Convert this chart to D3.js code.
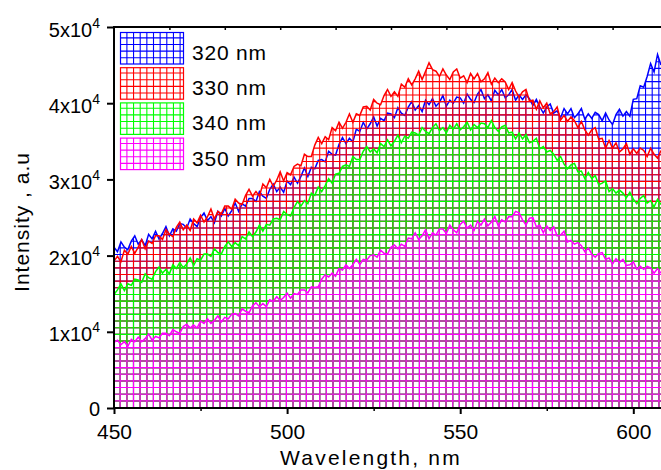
<!DOCTYPE html>
<html>
<head>
<meta charset="utf-8">
<script src="https://cdn.jsdelivr.net/npm/d3@7/dist/d3.min.js"></script>
<style>
  html, body { margin: 0; padding: 0; background: #fff; }
  svg { display: block; font-family: "Liberation Sans", Arial, sans-serif; }
</style>
</head>
<body>
<svg id="chart" width="661" height="470"></svg>
<script>
// Emission spectra, intensity in units of 10^3 counts, one value per nm from 450 to 608 nm
const wavelengthStart = 450;
const wavelengthEnd = 608;

const intensity320 = [
  21.1,20.5,21.8,21.1,20.8,21.9,22.6,21.5,22.1,21.3,   // 450-459
  22.8,22.2,23.2,22.2,22.9,23.8,22.6,23.5,23.2,24.2,   // 460-469
  24.1,23.6,24.8,24.2,23.8,25.0,25.6,24.6,25.1,24.3,   // 470-479
  25.8,25.2,26.2,25.2,25.9,26.9,25.8,26.8,26.5,27.5,   // 480-489
  27.5,27.1,28.4,27.8,27.5,28.7,29.4,28.4,29.0,28.3,   // 490-499
  29.8,29.3,30.3,29.5,30.4,31.5,30.4,31.6,31.4,32.5,   // 500-509
  32.6,32.3,33.7,33.3,33.2,34.6,35.5,34.7,35.4,34.9,   // 510-519
  36.6,36.3,37.5,36.6,37.3,38.2,37.0,38.0,37.7,38.7,   // 520-529
  38.6,38.1,39.4,38.7,38.4,39.5,40.2,39.1,39.7,38.9,   // 530-539
  40.4,39.8,40.6,39.6,40.1,41.0,39.6,40.4,40.0,40.8,   // 540-549
  40.7,40.0,41.2,40.5,40.1,41.2,41.8,40.6,41.1,40.3,   // 550-559
  41.7,41.1,41.8,40.7,41.1,41.8,40.4,41.1,40.5,41.1,   // 560-569
  40.6,39.7,40.5,39.5,38.7,39.5,39.9,38.7,39.0,38.1,   // 570-579
  39.3,38.6,39.3,38.1,38.6,39.3,37.9,38.6,38.0,38.8,   // 580-589
  38.5,37.7,38.7,37.8,37.2,38.5,39.2,38.3,38.9,38.3,   // 590-599
  40.5,40.6,42.3,42.1,43.5,45.2,44.1,46.4,45.0         // 600-608
];

const intensity330 = [
  19.3,19.9,19.2,20.7,20.2,21.2,20.3,21.1,22.1,20.9,   // 450-459
  21.9,21.6,22.6,22.6,22.1,23.4,22.8,22.5,23.7,24.4,   // 460-469
  23.4,24.0,23.3,24.8,24.3,25.3,24.4,25.1,26.1,24.8,   // 470-479
  25.8,25.5,26.5,26.5,26.1,27.4,26.9,26.7,27.9,28.7,   // 480-489
  27.8,28.4,27.8,29.4,28.9,30.0,29.1,29.9,31.0,29.8,   // 490-499
  30.9,30.6,31.7,32.0,31.8,33.3,33.0,33.0,34.5,35.5,   // 500-509
  34.7,35.6,35.2,36.8,36.4,37.5,36.7,37.5,38.6,37.5,   // 510-519
  38.6,38.4,39.5,39.6,39.1,40.5,40.0,39.8,41.0,41.8,   // 520-529
  40.9,41.5,40.9,42.5,42.1,43.2,42.4,43.2,44.2,43.1,   // 530-539
  44.2,45.3,44.4,44.2,43.5,44.5,43.7,43.1,44.1,44.5,   // 540-549
  43.3,43.6,42.7,43.9,43.2,43.9,42.8,43.2,44.0,42.5,   // 550-559
  43.3,42.7,43.2,42.8,41.8,42.7,41.6,40.8,41.5,41.8,   // 560-569
  40.3,40.4,39.2,40.3,39.4,40.0,38.6,38.9,39.5,37.8,   // 570-579
  38.4,37.6,38.2,37.7,36.8,37.6,36.5,35.8,36.5,36.8,   // 580-589
  35.3,35.4,34.1,35.1,34.1,34.8,33.6,34.0,34.7,33.3,   // 590-599
  34.0,33.4,34.1,33.8,33.0,34.1,33.3,32.8,33.8         // 600-608
];

const intensity340 = [
  14.9,15.5,16.3,15.4,16.3,16.1,16.9,16.8,16.5,17.6,   // 450-459
  17.1,16.9,17.9,18.5,17.7,18.2,17.6,18.8,18.3,19.1,   // 460-469
  18.4,18.9,19.7,18.7,19.6,19.4,20.2,20.2,19.9,20.9,   // 470-479
  20.4,20.2,21.2,21.8,21.2,21.7,21.3,22.5,22.2,23.1,   // 480-489
  22.5,23.1,24.0,23.2,24.1,24.0,24.8,24.9,24.7,25.8,   // 490-499
  25.4,25.2,26.3,27.1,26.5,27.2,26.8,28.2,27.9,29.0,   // 500-509
  28.4,29.2,30.1,29.5,30.7,30.8,31.7,31.9,31.7,33.0,   // 510-519
  32.6,32.6,33.7,34.3,33.6,34.0,33.5,34.7,34.3,35.2,   // 520-529
  34.4,35.0,35.8,34.8,35.7,35.4,36.2,36.1,35.8,36.8,   // 530-539
  36.3,36.0,36.8,37.3,36.4,36.8,36.1,37.1,36.6,37.3,   // 540-549
  36.5,36.9,37.5,36.5,37.2,36.8,37.4,37.3,36.8,37.7,   // 550-559
  36.8,36.3,36.9,37.1,36.1,36.2,35.3,36.1,35.3,35.9,   // 560-569
  34.8,35.0,35.4,34.0,34.3,33.6,33.8,33.3,32.5,33.0,   // 570-579
  32.0,31.4,31.9,32.1,31.0,31.1,30.1,30.9,30.1,30.5,   // 580-589
  29.3,29.5,29.8,28.4,28.8,28.2,28.6,28.2,27.6,28.3,   // 590-599
  27.4,26.8,27.5,27.9,26.9,27.2,26.4,27.4,26.7         // 600-608
];

const intensity350 = [
  8.6,8.9,8.3,8.7,8.1,9.0,8.7,9.3,8.7,9.1,             // 450-459
  9.7,8.9,9.4,9.2,9.8,9.8,9.5,10.3,10.0,9.8,           // 460-469
  10.7,11.0,10.5,10.9,10.5,11.4,11.1,11.7,11.1,11.5,   // 470-479
  12.1,11.3,11.9,11.7,12.3,12.4,12.1,13.0,12.7,12.5,   // 480-489
  13.4,13.8,13.3,13.7,13.3,14.2,14.0,14.6,14.1,14.5,   // 490-499
  15.1,14.4,15.0,14.9,15.5,15.5,15.1,15.9,15.8,15.9,   // 500-509
  16.9,17.5,17.2,17.7,17.3,18.3,18.1,18.8,18.3,18.8,   // 510-519
  19.5,18.8,19.5,19.4,20.0,20.1,19.8,20.7,20.3,20.2,   // 520-529
  21.1,21.4,20.9,21.5,21.2,22.3,22.2,23.0,22.1,22.6,   // 530-539
  23.4,22.2,23.0,22.7,23.5,23.5,22.9,24.0,23.4,23.0,   // 540-549
  24.1,24.5,23.6,24.0,23.3,24.5,24.0,24.8,23.9,24.4,   // 550-559
  25.1,23.9,24.7,24.4,25.1,25.1,25.8,25.6,24.7,24.0,   // 560-569
  24.9,25.0,23.8,24.0,23.0,23.9,23.3,23.8,22.6,22.7,   // 570-579
  23.2,21.8,22.0,21.5,21.7,21.3,20.5,21.0,20.2,19.8,   // 580-589
  20.3,20.4,19.5,19.7,18.9,19.6,19.1,19.5,18.7,18.8,   // 590-599
  19.2,18.2,18.6,18.2,18.6,18.4,17.7,18.3,17.7         // 600-608
];

const seriesNames = ["320 nm", "330 nm", "340 nm", "350 nm"];
const seriesColors = ["#0000ff", "#ff0000", "#00ff00", "#ff00ff"];
const seriesValues = [intensity320, intensity330, intensity340, intensity350];

const xTickValues = [450, 500, 550, 600];
const xMinorTickValues = [475, 525, 575];
const yTickValues = [0, 10, 20, 30, 40, 50];
const yTickLabels = ["0", "1x10^4", "2x10^4", "3x10^4", "4x10^4", "5x10^4"];
const topTickValues = [1, 2, 3, 4, 5, 6, 7, 8, 9];

const xTitle = "Wavelength, nm";
const yTitle = "Intensity , a.u";

// ---- layout ----
const plot = { left: 114, right: 661, top: 27, bottom: 408 };
const hatchStep = 6.65;

const svg = d3.select("#chart");
const defs = svg.append("defs");

const x = d3.scaleLinear().domain([wavelengthStart, wavelengthEnd]).range([plot.left, plot.right]);
const y = d3.scaleLinear().domain([0, 50]).range([plot.bottom, plot.top]);
const xTop = d3.scaleLinear().domain([0, 10]).range([plot.left, plot.left + 554]);

const wavelengths = d3.range(wavelengthStart, wavelengthEnd + 1);

defs.append("clipPath").attr("id", "plot-clip")
  .append("rect")
  .attr("x", plot.left).attr("y", plot.top)
  .attr("width", plot.right - plot.left).attr("height", plot.bottom - plot.top);

const area = d3.area()
  .x((d, i) => x(wavelengths[i]))
  .y0(y(0))
  .y1(d => y(d));
const line = d3.line()
  .x((d, i) => x(wavelengths[i]))
  .y(d => y(d));

// Grid hatch drawn inside a rectangular region
function hatch(g, x0, y0, x1, y1, color, originX, originY) {
  const vx = [];
  for (let px = originX; px <= x1 + 0.01; px += hatchStep) if (px >= x0 - 0.01) vx.push(px);
  const hy = [];
  for (let py = originY; py >= y0 - 0.01; py -= hatchStep) if (py <= y1 + 0.01) hy.push(py);
  g.selectAll(null).data(vx).join("line")
    .attr("x1", d => d).attr("x2", d => d).attr("y1", y0).attr("y2", y1)
    .attr("stroke", color).attr("stroke-width", 1.1);
  g.selectAll(null).data(hy).join("line")
    .attr("y1", d => d).attr("y2", d => d).attr("x1", x0).attr("x2", x1)
    .attr("stroke", color).attr("stroke-width", 1.1);
}

const plotG = svg.append("g").attr("clip-path", "url(#plot-clip)");

seriesValues.forEach((vals, i) => {
  const id = "area-clip-" + i;
  defs.append("clipPath").attr("id", id).append("path").attr("d", area(vals));
  const hg = plotG.append("g").attr("clip-path", `url(#${id})`);
  hatch(hg, plot.left, plot.top, plot.right, plot.bottom, seriesColors[i], plot.left + 6.2, plot.bottom - 0.5);
  plotG.append("path")
    .attr("d", line(vals))
    .attr("fill", "none")
    .attr("stroke", seriesColors[i])
    .attr("stroke-width", 1.5)
    .attr("stroke-linejoin", "miter");
});

// ---- legend ----
const legend = svg.append("g");
seriesNames.forEach((name, i) => {
  const bx = 120.5, by = 32.5 + i * 35.2, bw = 63, bh = 31.5;
  const lg = legend.append("g");
  hatch(lg, bx, by, bx + bw, by + bh, seriesColors[i], bx + 6.4, by + bh - 6.2);
  lg.append("rect")
    .attr("x", bx).attr("y", by).attr("width", bw).attr("height", bh)
    .attr("fill", "none").attr("stroke", seriesColors[i]).attr("stroke-width", 1.2);
  lg.append("text")
    .attr("x", 192).attr("y", by + 27.5)
    .attr("font-size", 21).attr("letter-spacing", 0.8)
    .attr("fill", "#000")
    .text(name);
});

// ---- axes ----
const axisG = svg.append("g");

// bottom axis
const bottomAxis = d3.axisBottom(x).tickValues(xTickValues).tickSize(6).tickPadding(10).tickFormat(d3.format("d"));
const bx = axisG.append("g").attr("transform", `translate(0,${plot.bottom})`).call(bottomAxis);
bx.select(".domain").remove();
bx.selectAll(".tick line").attr("stroke", "#000").attr("stroke-width", 2);
bx.selectAll(".tick text").attr("font-size", 21).attr("font-family", "Liberation Sans, Arial, sans-serif").attr("fill", "#000").attr("dy", "0.72em");
const bxMinor = d3.axisBottom(x).tickValues(xMinorTickValues).tickSize(3).tickFormat("");
const bm = axisG.append("g").attr("transform", `translate(0,${plot.bottom})`).call(bxMinor);
bm.select(".domain").remove();
bm.selectAll(".tick line").attr("stroke", "#000").attr("stroke-width", 1.5);

// top axis (unlabelled ticks)
const topAxis = d3.axisBottom(xTop).tickValues(topTickValues).tickSize(3).tickFormat("");
const tx = axisG.append("g").attr("transform", `translate(0,${plot.top})`).call(topAxis);
tx.select(".domain").remove();
tx.selectAll(".tick line").attr("stroke", "#000").attr("stroke-width", 1.5);

// left axis
const leftAxis = d3.axisLeft(y).tickValues(yTickValues).tickSize(7).tickFormat("");
const lx = axisG.append("g").attr("transform", `translate(${plot.left},0)`).call(leftAxis);
lx.select(".domain").remove();
lx.selectAll(".tick line").attr("stroke", "#000").attr("stroke-width", 2);
lx.selectAll(".tick").each(function (d, i) {
  const parts = yTickLabels[i].split("^");
  const t = d3.select(this).append("text")
    .attr("x", -14).attr("y", parts.length > 1 ? 9 : 7.5)
    .attr("text-anchor", "end")
    .attr("font-size", 20)
    .attr("fill", "#000")
    .attr("font-family", "Liberation Sans, Arial, sans-serif");
  t.append("tspan").text(parts[0]);
  if (parts.length > 1) {
    t.append("tspan").attr("dy", -9).attr("font-size", 14).text(parts[1]);
  }
});

// spines
axisG.append("line").attr("x1", plot.left).attr("x2", plot.right).attr("y1", plot.bottom).attr("y2", plot.bottom)
  .attr("stroke", "#000").attr("stroke-width", 2);
axisG.append("line").attr("x1", plot.left).attr("x2", plot.right).attr("y1", plot.top).attr("y2", plot.top)
  .attr("stroke", "#000").attr("stroke-width", 2);
axisG.append("line").attr("x1", plot.left).attr("x2", plot.left).attr("y1", plot.top - 1).attr("y2", plot.bottom + 1)
  .attr("stroke", "#000").attr("stroke-width", 2);

// titles
svg.append("text")
  .attr("x", 371).attr("y", 465)
  .attr("text-anchor", "middle")
  .attr("font-size", 21).attr("letter-spacing", 2.2)
  .attr("fill", "#000")
  .text(xTitle);
svg.append("text")
  .attr("transform", "translate(29,222) rotate(-90)")
  .attr("text-anchor", "middle")
  .attr("font-size", 21).attr("letter-spacing", 1)
  .attr("fill", "#000")
  .text(yTitle);
</script>
</body>
</html>
